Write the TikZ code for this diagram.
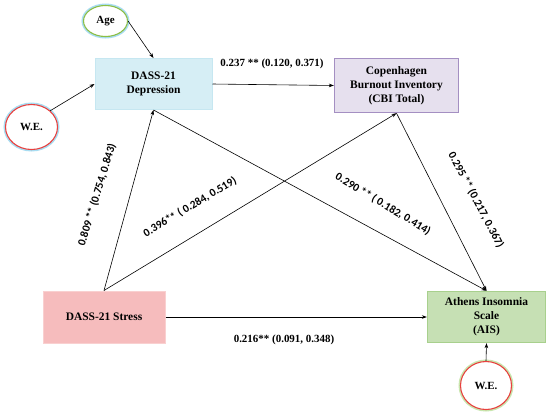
\documentclass[tikz,border=0pt]{standalone}
\usepackage{fontspec}
\setmainfont{Liberation Serif}
\newfontfamily\labfont{Carlito}
\usetikzlibrary{shapes.geometric,arrows.meta}
\definecolor{depfill}{HTML}{D6EEF5}
\definecolor{depline}{HTML}{C6E7F1}
\definecolor{cbifill}{HTML}{E6E0EE}
\definecolor{cbiline}{HTML}{A48FC2}
\definecolor{strfill}{HTML}{F6BCBD}
\definecolor{strline}{HTML}{F9D0D0}
\definecolor{aisfill}{HTML}{C6E0B4}
\definecolor{aisline}{HTML}{A8D08D}
\definecolor{ellred}{HTML}{E8413F}
\definecolor{ellgreen}{HTML}{8DBE45}
\definecolor{glowblue}{HTML}{A8DDF2}
\definecolor{glowgreen}{HTML}{C8E6AE}
\tikzset{
  boxnode/.style={rectangle, inner sep=2pt, align=center, font=\fontsize{11.5}{14}\selectfont\bfseries, line width=1pt},
  ellnode/.style={ellipse, inner sep=0pt, fill=white, font=\fontsize{11}{13}\selectfont\bfseries, line width=1.1pt},
  conn/.style={-{Stealth[length=5pt,width=3.6pt]}, line width=0.6pt, black},
  seriflab/.style={font=\fontsize{11}{13}\selectfont\bfseries, inner sep=1pt},
  sanslab/.style={font=\labfont\fontsize{11.3}{13}\selectfont\bfseries, inner sep=1pt}
}
\begin{document}
\begin{tikzpicture}[x=1bp,y=-1bp]
\useasboundingbox (0,0) rectangle (550,414);
\fill[white] (0,0) rectangle (550,414);
% boxes
\node[boxnode, fill=depfill, draw=depline, minimum width=117bp, minimum height=51bp] (dep) at (153.5,84) {DASS-21\\Depression};
\node[boxnode, fill=cbifill, draw=cbiline, line width=1.4pt, minimum width=124bp, minimum height=54bp] (cbi) at (396.5,85.5) {Copenhagen\\Burnout Inventory\\(CBI Total)};
\node[boxnode, fill=strfill, draw=strline, minimum width=122bp, minimum height=52bp] (str) at (104,317) {DASS-21 Stress};
\node[boxnode, fill=aisfill, draw=aisline, line width=1.4pt, minimum width=118bp, minimum height=51bp] (ais) at (486.5,317) {Athens Insomnia\\Scale\\(AIS)};
% ellipses
\node[ellnode, draw=ellgreen, preaction={draw=glowblue, line width=4pt}, minimum width=44bp, minimum height=31bp] (age) at (105.5,21) {Age};
\node[ellnode, draw=ellred, preaction={draw=glowblue, line width=4pt}, minimum width=52bp, minimum height=45bp] (we1) at (31.5,127) {W.E.};
\node[ellnode, draw=ellred, preaction={draw=glowgreen, line width=4pt}, minimum width=51bp, minimum height=48bp] (we2) at (486,385.5) {W.E.};
% connectors
\draw[conn] (age.east) -- (dep.north);
\draw[conn] (we1.north east) -- (dep.west);
\draw[conn] (dep.east) -- (cbi.west);
\draw[conn] (str.north) -- (dep.south);
\draw[conn] (str.north) -- (cbi.south);
\draw[conn] (dep.south) -- (ais.north);
\draw[conn] (cbi.south) -- (ais.north);
\draw[conn] (str.east) -- (ais.west);
\draw[conn] (we2.north) -- (ais.south);
% labels
\node[seriflab] (l1) at (272,63.5) {0.237 ** (0.120, 0.371)};
\node[seriflab] (l2) at (284,340) {0.216** (0.091, 0.348)};
\node[sanslab, rotate=73] (l3) at (97,195) {0.809 ** (0.754, 0.843)};
\node[sanslab, rotate=31] (l4) at (190,207) {0.396** ( 0.284, 0.519)};
\node[sanslab, rotate=-31] (l5) at (383,204) {0.290 ** ( 0.182, 0.414)};
\node[sanslab, rotate=-62] (l6) at (476,200) {0.295 ** (0.217, 0.367)};
\end{tikzpicture}
\end{document}
